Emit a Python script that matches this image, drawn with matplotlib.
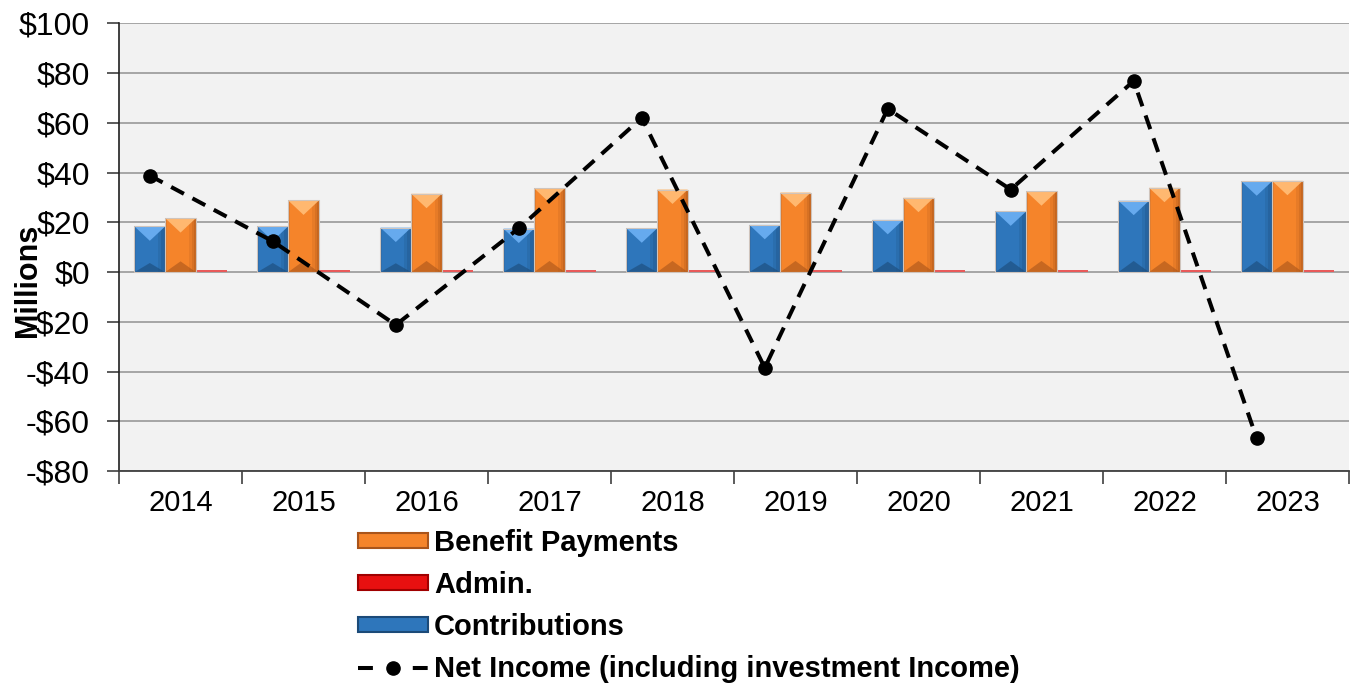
import numpy as np
import matplotlib
matplotlib.use("Agg")
import matplotlib.pyplot as plt
from matplotlib.patches import Polygon, Rectangle
from matplotlib.lines import Line2D
from matplotlib.ticker import FuncFormatter, MultipleLocator

plt.rcParams['font.family'] = ['Liberation Sans', 'DejaVu Sans']

years = ['2014', '2015', '2016', '2017', '2018', '2019', '2020', '2021', '2022', '2023']
contributions = [18.4, 18.4, 17.9, 17.5, 17.6, 19.0, 21.0, 24.4, 28.7, 36.5]
benefit_payments = [21.7, 28.8, 31.5, 33.7, 33.2, 32.0, 29.9, 32.5, 33.9, 36.7]
admin = [0.7, 0.7, 0.7, 0.7, 0.7, 0.7, 0.7, 0.7, 0.7, 0.7]
net_income = [38.8, 12.4, -21.2, 17.6, 62.0, -38.4, 65.6, 33.2, 76.8, -66.8]

# base / light (top bevel) / dark (sides + bottom bevel)
BLUE = ('#2e76bb', '#66aaee', '#1b4a78')
ORANGE = ('#f5842a', '#ffb870', '#a9541a')
RED = ('#f03030', '#ff7070', '#a00000')

fig = plt.figure(figsize=(13.53, 6.84), dpi=100)
ax = fig.add_axes([0.088, 0.311, 0.909, 0.655])
ax.set_facecolor('#f2f2f2')

n = len(years)
x = np.arange(n)
w = 0.25


def bevel_bar(ax, xc, h, colors):
    base, light, dark = colors
    x0, x1 = xc - w / 2, xc + w / 2
    ax.add_patch(Rectangle((x0, 0), w, h, facecolor=base, linewidth=0, zorder=2))
    # soft darker edges (fake gradient)
    for k, a in [(0.28, 0.18), (0.37, 0.25), (0.45, 0.35)]:
        ax.add_patch(Rectangle((xc + w * k, 0), w * (0.5 - k), h, facecolor=dark,
                               alpha=a, linewidth=0, zorder=2))
    ax.add_patch(Rectangle((x0, 0), w * 0.06, h, facecolor=dark, alpha=0.25,
                           linewidth=0, zorder=2))
    d_top = min(5.8, h * 0.35)
    d_bot = min(4.5, h * 0.2)
    ax.add_patch(Polygon([(x0, h), (x1, h), (xc, h - d_top)], closed=True,
                         facecolor=light, linewidth=0, zorder=3))
    ax.add_patch(Polygon([(x0, 0), (x1, 0), (xc, d_bot)], closed=True,
                         facecolor=dark, alpha=0.6, linewidth=0, zorder=3))
    ax.add_patch(Rectangle((x0, 0), w, h, facecolor='none', edgecolor='#cfc4bc',
                           linewidth=0.8, zorder=3))


for i in range(n):
    bevel_bar(ax, x[i] - w, contributions[i], BLUE)
    bevel_bar(ax, x[i], benefit_payments[i], ORANGE)
    ax.bar(x[i] + w, admin[i], width=w, color='#e85a5a', zorder=2, linewidth=0)

ax.plot(x - w, net_income, color='black', linewidth=2.9, dashes=(3.6, 2.4),
        marker='o', markersize=9.5, zorder=5)

ax.set_xlim(-0.5, n - 0.5)
ax.set_ylim(-80, 100)
ax.yaxis.set_major_locator(MultipleLocator(20))
ax.yaxis.set_major_formatter(FuncFormatter(lambda v, p: f'${v:.0f}' if v >= 0 else f'-${-v:.0f}'))
ax.grid(axis='y', color='#a0a0a0', linewidth=1.3, zorder=1)
ax.set_axisbelow(True)

ax.set_xticks(np.arange(n + 1) - 0.5)
ax.set_xticklabels([])
ax.set_xticks(x, minor=True)
ax.set_xticklabels(years, minor=True)
ax.tick_params(axis='x', which='major', length=9, width=1.2, color='#404040', direction='out')
ax.tick_params(axis='x', which='minor', length=0, labelsize=21, pad=13)
ax.tick_params(axis='y', length=9, width=1.2, color='#404040', labelsize=23, pad=12)

for s in ['top', 'right']:
    ax.spines[s].set_visible(False)
ax.spines['left'].set_color('#202020')
ax.spines['left'].set_linewidth(1.2)
ax.spines['bottom'].set_color('#404040')
ax.spines['bottom'].set_linewidth(1.3)

fig.text(0.021, 1 - 280 / 684, 'Millions', rotation=90, ha='center', va='center',
         fontsize=22, fontweight='bold', zorder=10)

handles = [
    Rectangle((0, 0), 1, 1, facecolor=ORANGE[0], edgecolor=ORANGE[2], linewidth=1.5),
    Rectangle((0, 0), 1, 1, facecolor='#e81010', edgecolor=RED[2], linewidth=1.5),
    Rectangle((0, 0), 1, 1, facecolor=BLUE[0], edgecolor=BLUE[2], linewidth=1.5),
    Line2D([], [], color='black', linewidth=2.9, dashes=(3.7, 9.9), marker='o', markersize=9.5),
]
labels = ['Benefit Payments', 'Admin.', 'Contributions',
          'Net Income (including investment Income)']
leg = fig.legend(handles, labels, loc='upper left', bbox_to_anchor=(0.2646, 0.2266),
                 frameon=False, prop={'size': 21, 'weight': 'bold'},
                 handlelength=2.4, handleheight=0.42, handletextpad=0.2,
                 labelspacing=0.48, borderaxespad=0, borderpad=0)

fig.savefig('out.png', dpi=100)
